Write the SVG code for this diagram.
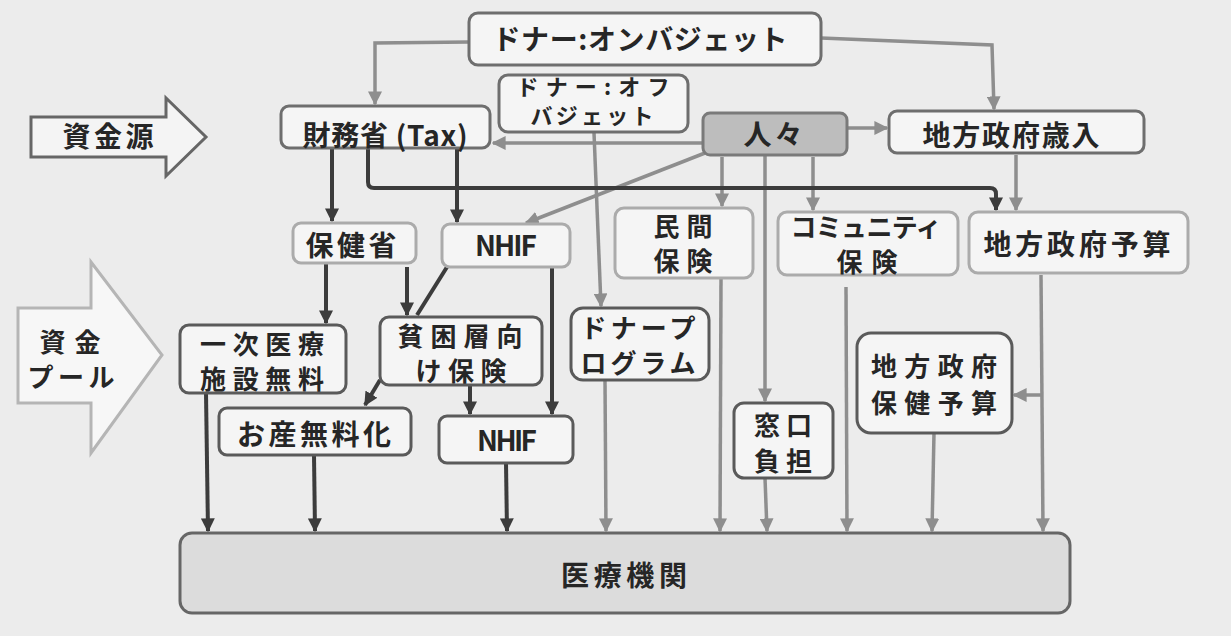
<svg xmlns="http://www.w3.org/2000/svg" width="1231" height="636" viewBox="0 0 1231 636">
<defs>
<style>
.bg{fill:#ececec}
.t{font-family:"Noto Sans CJK JP","Noto Sans",sans-serif;font-weight:bold;font-size:28px;fill:#262626;text-anchor:middle}
.m{font-size:26px}
.s{font-size:22px}
.n{fill:#f5f5f5;stroke-width:3}
.dk{stroke:#5a5a5a}
.lt{stroke:#ababab}
.md{stroke:#6e6e6e}
.cd{fill:none;stroke:#3c3c3c;stroke-width:4}
.cg{fill:none;stroke:#8e8e8e;stroke-width:3.5}
</style>
<marker id="ad" viewBox="0 0 10 10" refX="9" refY="5" markerWidth="14" markerHeight="14" markerUnits="userSpaceOnUse" orient="auto"><path d="M0,0L10,5L0,10z" fill="#3c3c3c"/></marker>
<marker id="ag" viewBox="0 0 10 10" refX="9" refY="5" markerWidth="14" markerHeight="14" markerUnits="userSpaceOnUse" orient="auto"><path d="M0,0L10,5L0,10z" fill="#8e8e8e"/></marker>
</defs>
<rect class="bg" x="0" y="0" width="1231" height="636"/>

<g id="label-source">
<path d="M31,117H166V98L206,137L166,176V157H31z" fill="#f4f4f4" stroke="#666" stroke-width="3"/>
<text class="t" x="108" y="147" textLength="91">資金源</text>
</g>
<g id="label-pool">
<path d="M18,308H91V262L162,355L91,453V403H18z" fill="#f7f7f7" stroke="#b5b5b5" stroke-width="3"/>
<text class="t m" x="70" y="352" textLength="61">資金</text>
<text class="t m" x="71" y="387" textLength="87">プール</text>
</g>

<g id="connectors">
<path class="cg" d="M469,42L375,43V104" marker-end="url(#ag)"/>
<path class="cg" d="M821,38L992,45L994,109" marker-end="url(#ag)"/>
<path class="cg" d="M703,143H493" marker-end="url(#ag)"/>
<path class="cg" d="M847,128H887" marker-end="url(#ag)"/>
<path class="cg" d="M705,153L526,223" marker-end="url(#ag)"/>
<path class="cg" d="M722,157V206" marker-end="url(#ag)"/>
<path class="cg" d="M813,157V210" marker-end="url(#ag)"/>
<path class="cg" d="M765,155V401" marker-end="url(#ag)"/>
<path class="cg" d="M1016,155V210" marker-end="url(#ag)"/>
<path class="cg" d="M594,133L601,306" marker-end="url(#ag)"/>
<path class="cg" d="M605,380L606,531" marker-end="url(#ag)"/>
<path class="cg" d="M721,278L720,531" marker-end="url(#ag)"/>
<path class="cg" d="M765,478L767,531" marker-end="url(#ag)"/>
<path class="cg" d="M846,287L847,531" marker-end="url(#ag)"/>
<path class="cg" d="M934,433L932,531" marker-end="url(#ag)"/>
<path class="cg" d="M1041,275L1043,531" marker-end="url(#ag)"/>
<path class="cg" d="M1041,395H1014" marker-end="url(#ag)"/>
<path class="cd" d="M332,148V221" marker-end="url(#ad)"/>
<path class="cd" d="M457,148V222" marker-end="url(#ad)"/>
<path class="cd" d="M368,148V182Q368,188 374,188H990Q996,188 996,194V210" stroke-width="5" marker-end="url(#ad)"/>
<path class="cd" d="M326,263V323" marker-end="url(#ad)"/>
<path class="cd" d="M407,267V315" marker-end="url(#ad)"/>
<path class="cd" d="M447,267L417,315"/>
<path class="cd" d="M552,267V414" marker-end="url(#ad)"/>
<path class="cd" d="M470,385V414" marker-end="url(#ad)"/>
<path class="cd" d="M380,380L365,405" marker-end="url(#ad)"/>
<path class="cd" d="M206,393L208,531" marker-end="url(#ad)"/>
<path class="cd" d="M314,455L315,531" marker-end="url(#ad)"/>
<path class="cd" d="M506,463L507,531" marker-end="url(#ad)"/>
</g>

<g id="donor-on">
<rect class="n md" x="469" y="13" width="352" height="52" rx="9"/>
<text class="t" x="640" y="50" textLength="295">ドナー:オンバジェット</text>
</g>
<g id="mof">
<rect class="n md" x="281" y="106" width="209" height="42" rx="8"/>
<text class="t" x="385" y="146" textLength="165">財務省 (Tax)</text>
</g>
<g id="donor-off">
<rect class="n md" x="499" y="75" width="189" height="57" rx="9"/>
<text class="t s" x="593" y="95" textLength="153">ドナー:オフ</text>
<text class="t s" x="592" y="124" textLength="123">バジェット</text>
</g>
<g id="people">
<rect x="703" y="113" width="144" height="42" rx="7" fill="#bdbdbd" stroke="#7a7a7a" stroke-width="3"/>
<text class="t" x="773" y="145" textLength="59">人々</text>
</g>
<g id="local-revenue">
<rect class="n md" x="889" y="111" width="255" height="42" rx="8"/>
<text class="t" x="1011" y="146" textLength="177">地方政府歳入</text>
</g>
<g id="moh">
<rect class="n lt" x="293" y="223" width="123" height="40" rx="8"/>
<text class="t" x="351" y="256" textLength="91">保健省</text>
</g>
<g id="nhif-top">
<rect class="n lt" x="442" y="224" width="128" height="43" rx="8"/>
<text class="t" x="506" y="256" textLength="62">NHIF</text>
</g>
<g id="private-ins">
<rect class="n lt" x="615" y="208" width="138" height="70" rx="9"/>
<text class="t m" x="683" y="236" textLength="59">民間</text>
<text class="t m" x="683" y="271" textLength="59">保険</text>
</g>
<g id="community-ins">
<rect class="n lt" x="778" y="212" width="180" height="63" rx="9"/>
<text class="t m" x="866" y="237" textLength="151">コミュニティ</text>
<text class="t m" x="867" y="272" textLength="61">保険</text>
</g>
<g id="local-budget">
<rect class="n lt" x="969" y="212" width="219" height="61" rx="9"/>
<text class="t" x="1077" y="255" textLength="187">地方政府予算</text>
</g>
<g id="primary-free">
<rect class="n dk" x="180" y="325" width="166" height="68" rx="9"/>
<text class="t m" x="262" y="354" textLength="124">一次医療</text>
<text class="t m" x="262" y="389" textLength="124">施設無料</text>
</g>
<g id="poor-ins">
<rect class="n dk" x="380" y="317" width="162" height="68" rx="9"/>
<text class="t m" x="460" y="346" textLength="125">貧困層向</text>
<text class="t m" x="461" y="381" textLength="91">け保険</text>
</g>
<g id="donor-program">
<rect class="n dk" x="571" y="308" width="138" height="72" rx="12"/>
<text class="t m" x="638" y="338" textLength="115">ドナープ</text>
<text class="t m" x="638" y="373" textLength="115">ログラム</text>
</g>
<g id="free-delivery">
<rect class="n dk" x="219" y="408" width="192" height="47" rx="8"/>
<text class="t" x="314" y="445" textLength="154">お産無料化</text>
</g>
<g id="nhif-bottom">
<rect class="n dk" x="439" y="416" width="134" height="47" rx="8"/>
<text class="t" x="507" y="451" textLength="60">NHIF</text>
</g>
<g id="copay">
<rect class="n dk" x="734" y="403" width="99" height="75" rx="10"/>
<text class="t m" x="783" y="435" textLength="58">窓口</text>
<text class="t m" x="783" y="471" textLength="58">負担</text>
</g>
<g id="local-health-budget">
<rect class="n dk" x="857" y="333" width="155" height="100" rx="14"/>
<text class="t m" x="934" y="376" textLength="126">地方政府</text>
<text class="t m" x="934" y="413" textLength="126">保健予算</text>
</g>
<g id="facilities">
<rect x="180" y="533" width="890" height="80" rx="12" fill="#dcdcdc" stroke="#666" stroke-width="3"/>
<text class="t" x="624" y="586" textLength="126">医療機関</text>
</g>
</svg>
